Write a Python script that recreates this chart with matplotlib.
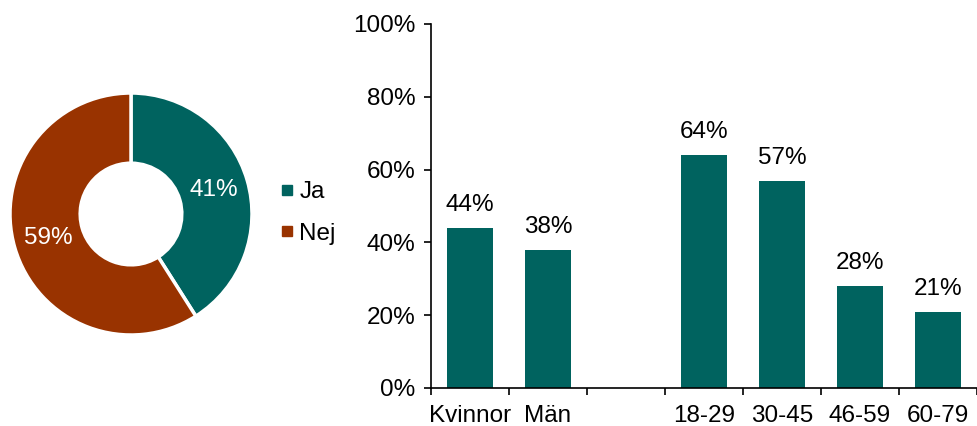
import matplotlib
matplotlib.use("Agg")
import matplotlib.pyplot as plt
from matplotlib.lines import Line2D
import numpy as np

plt.rcParams['font.family'] = ['Liberation Sans', 'DejaVu Sans']

pie_labels = ["Ja", "Nej"]
pie_values = [41, 59]
pie_colors = ["#00635F", "#993300"]

bar_categories = ["Kvinnor", "Män", "", "18-29", "30-45", "46-59", "60-79"]
bar_values = [0.44, 0.38, None, 0.64, 0.57, 0.28, 0.21]
bar_color = "#00635F"

FS = 17.5
W, H = 977, 426
fig = plt.figure(figsize=(W / 100, H / 100), dpi=100)

# Donut
axp = fig.add_axes([10 / W, (H - 335) / H, 242 / W, 242 / H])
wedges, texts, autotexts = axp.pie(
    pie_values, colors=pie_colors, startangle=90, counterclock=False,
    radius=1.0, wedgeprops=dict(width=0.58, edgecolor="white", linewidth=2.5),
    autopct=lambda p: f"{p:.0f}%", pctdistance=0.71,
    textprops=dict(color="white", fontsize=FS))
axp.set_xlim(-1, 1)
axp.set_ylim(-1, 1)
axp.set_aspect("equal")
axp.axis("off")

handles = [Line2D([0], [0], marker="s", linestyle="", markersize=7,
                  markerfacecolor=c, markeredgecolor=c) for c in pie_colors]
fig.legend(handles, pie_labels, loc="center left",
           bbox_to_anchor=(253 / W, (H - 213) / H), frameon=False,
           fontsize=FS, handletextpad=0.0, labelspacing=0.8, handlelength=1.0)

# Bars
axb = fig.add_axes([431 / W, (H - 388) / H, (977 - 431) / W, 364 / H])
x = np.arange(len(bar_categories))
for xi, v in zip(x, bar_values):
    if v is None:
        continue
    axb.bar(xi, v, width=0.58, color=bar_color)
    axb.text(xi, v + 0.033, f"{v * 100:.0f}%", ha="center", va="bottom", fontsize=FS)
axb.set_xlim(-0.5, len(bar_categories) - 0.5)
axb.set_ylim(0, 1)
axb.set_yticks(np.arange(0, 1.01, 0.2))
axb.set_yticklabels([f"{int(round(t * 100))}%" for t in np.arange(0, 1.01, 0.2)], fontsize=FS)
axb.set_xticks(x)
axb.set_xticklabels(bar_categories, fontsize=FS)
axb.set_xticks(np.arange(-0.5, len(bar_categories), 1.0), minor=True)
axb.tick_params(axis="x", which="major", length=0, pad=12)
axb.tick_params(axis="x", which="minor", length=5, width=1.2, direction="out")
axb.tick_params(axis="y", length=5, width=1.2, direction="out", pad=6)
for s in ["top", "right"]:
    axb.spines[s].set_visible(False)
for s in ["left", "bottom"]:
    axb.spines[s].set_linewidth(1.2)

fig.savefig("out.png", dpi=100)
